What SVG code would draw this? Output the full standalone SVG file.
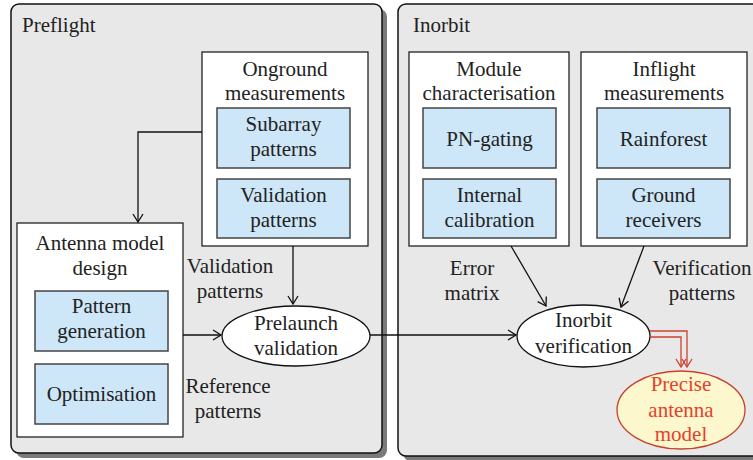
<svg xmlns="http://www.w3.org/2000/svg" width="753" height="460" viewBox="0 0 753 460" font-family="'Liberation Serif', serif">
<defs>
<style>
text{font-family:'Liberation Serif',serif;font-size:21px;fill:#222;text-anchor:middle}
.title{text-anchor:start}
.panel{fill:#e8e8e8;stroke:#111;stroke-width:1.5}
.shadow{fill:#7a7a7a}
.box{fill:#fff;stroke:#222;stroke-width:1.3}
.inner{fill:#cde6f8;stroke:#444;stroke-width:1.5}
.ell{fill:#fff;stroke:#111;stroke-width:1.3}
.edge{fill:none;stroke:#111;stroke-width:1.3;marker-end:url(#arr)}
.red{fill:none;stroke:#d0402e;stroke-width:1.3;marker-end:url(#rarr)}
.redtxt{fill:#e5412c}
</style>
<marker id="arr" markerUnits="userSpaceOnUse" markerWidth="14" markerHeight="14" viewBox="-10 -7 12 14" refX="0" refY="0" orient="auto">
<path d="M-8,-5 L0,0 L-8,5" fill="none" stroke="#111" stroke-width="1.3"/>
</marker>
<marker id="rarr" markerUnits="userSpaceOnUse" markerWidth="14" markerHeight="14" viewBox="-10 -7 12 14" refX="0" refY="0" orient="auto">
<path d="M-8,-5 L0,0 L-8,5" fill="none" stroke="#d0402e" stroke-width="1.3"/>
</marker>
</defs>

<g id="preflight">
<rect class="shadow" x="16" y="9" width="371" height="449" rx="8"/>
<rect class="panel" x="11" y="4" width="371" height="449" rx="8"/>
<text class="title" x="22" y="32">Preflight</text>
</g>
<g id="inorbit">
<rect class="shadow" x="403" y="9" width="380" height="452" rx="8"/>
<rect class="panel" x="398" y="4" width="380" height="452" rx="8"/>
<text class="title" x="413" y="32">Inorbit</text>
</g>

<g id="onground">
<rect class="box" x="202" y="52" width="166" height="194"/>
<text x="285" y="76">Onground</text>
<text x="285" y="100">measurements</text>
</g>
<g id="subarray">
<rect class="inner" x="217" y="108" width="133" height="60"/>
<text x="283.5" y="131">Subarray</text>
<text x="283.5" y="156">patterns</text>
</g>
<g id="validation-patterns-box">
<rect class="inner" x="217" y="179" width="133" height="59"/>
<text x="283.5" y="202">Validation</text>
<text x="283.5" y="227">patterns</text>
</g>

<g id="antenna">
<rect class="box" x="17" y="223" width="166" height="214"/>
<text x="100" y="250">Antenna model</text>
<text x="100" y="275">design</text>
</g>
<g id="pattern-generation">
<rect class="inner" x="35" y="291" width="133" height="60"/>
<text x="101.5" y="313">Pattern</text>
<text x="101.5" y="338">generation</text>
</g>
<g id="optimisation">
<rect class="inner" x="35" y="364" width="133" height="60"/>
<text x="101.5" y="401">Optimisation</text>
</g>

<g id="prelaunch">
<ellipse class="ell" cx="296" cy="336" rx="74" ry="30"/>
<text x="296" y="330">Prelaunch</text>
<text x="296" y="355">validation</text>
</g>

<g id="module">
<rect class="box" x="409" y="52" width="160" height="194"/>
<text x="489" y="76">Module</text>
<text x="489" y="100">characterisation</text>
</g>
<g id="pn-gating">
<rect class="inner" x="423" y="108" width="133" height="60"/>
<text x="489.5" y="146">PN-gating</text>
</g>
<g id="internal-calibration">
<rect class="inner" x="423" y="179" width="133" height="59"/>
<text x="489.5" y="202">Internal</text>
<text x="489.5" y="227">calibration</text>
</g>

<g id="inflight">
<rect class="box" x="581" y="52" width="166" height="194"/>
<text x="664" y="76">Inflight</text>
<text x="664" y="100">measurements</text>
</g>
<g id="rainforest">
<rect class="inner" x="597" y="108" width="133" height="60"/>
<text x="663.5" y="146">Rainforest</text>
</g>
<g id="ground-receivers">
<rect class="inner" x="597" y="179" width="133" height="59"/>
<text x="663.5" y="202">Ground</text>
<text x="663.5" y="227">receivers</text>
</g>

<g id="inorbit-verification">
<ellipse class="ell" cx="583.5" cy="336" rx="66.5" ry="31"/>
<text x="583.5" y="327">Inorbit</text>
<text x="583.5" y="353">verification</text>
</g>

<g id="precise">
<ellipse cx="681" cy="410" rx="64" ry="39" fill="#fcf7cc" stroke="#c8402e" stroke-width="1.3"/>
<text class="redtxt" x="681" y="391">Precise</text>
<text class="redtxt" x="681" y="417">antenna</text>
<text class="redtxt" x="681" y="441">model</text>
</g>

<g id="connectors">
<path class="edge" d="M202,132 H138 V222"/>
<path class="edge" d="M293,246 V304"/>
<path class="edge" d="M183,335 H221"/>
<path class="edge" d="M370,335 H516"/>
<path class="edge" d="M511,246 L546,306"/>
<path class="edge" d="M644,246 L621,307"/>
<path class="red" d="M650,331 H687 V367"/>
<path class="red" d="M650,337 H681 V367"/>
<text x="230" y="273">Validation</text>
<text x="230" y="298">patterns</text>
<text x="228" y="393">Reference</text>
<text x="228" y="418">patterns</text>
<text x="472" y="275">Error</text>
<text x="472" y="300">matrix</text>
<text x="702" y="275">Verification</text>
<text x="702" y="300">patterns</text>
</g>
</svg>
